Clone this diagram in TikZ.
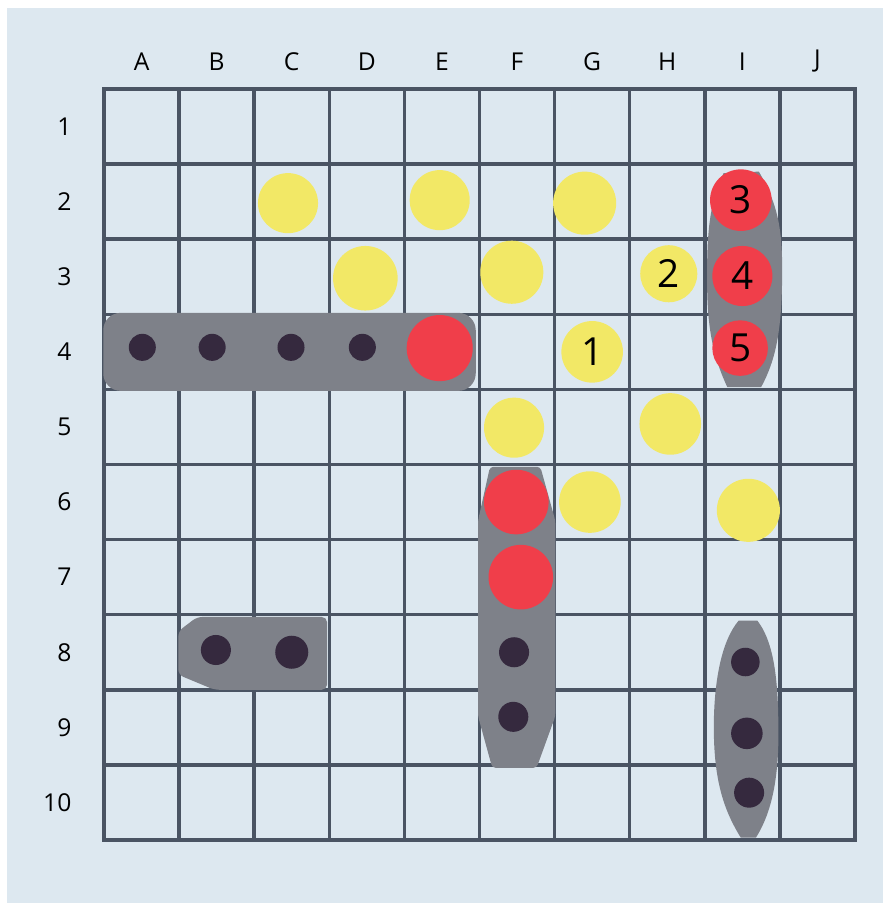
\documentclass[tikz,border=0pt]{standalone}
\usepackage{fontspec}
\setmainfont{Open Sans}
\usetikzlibrary{positioning}
\definecolor{seablue}{RGB}{221,232,240}
\definecolor{gridink}{RGB}{74,84,99}
\definecolor{missyellow}{RGB}{242,232,102}
\definecolor{hitred}{RGB}{240,62,74}
\definecolor{hullgray}{RGB}{126,129,137}
\definecolor{pegdark}{RGB}{53,41,62}

\begin{document}
\begin{tikzpicture}[x=1.5cm, y=-1.5cm,
    headtext/.style={font=\fontsize{14}{16}\selectfont, text=black, inner sep=0pt},
    misscirc/.style={circle, fill=missyellow, inner sep=0pt, font=\fontsize{22}{24}\selectfont},
    hitcirc/.style={circle, fill=hitred, inner sep=0pt, font=\fontsize{22}{24}\selectfont},
    hull/.style={fill=hullgray},
    peg/.style={circle, fill=pegdark, inner sep=0pt},
    gridlines/.style={draw=gridink, line width=2pt, line cap=rect},
  ]
    \useasboundingbox (-1.385,-1.185) rectangle (10.373,10.839);
    \fill[seablue] (-1.292,-1.079) rectangle (10.373,10.839);

    % board
    \foreach \k in {0,...,10} {
      \draw[gridlines] (\k,0) -- (\k,10);
      \draw[gridlines] (0,\k) -- (10,\k);
    }
    \foreach \c [count=\i] in {A,B,C,D,E,F,G,H,I,J}
      \node[headtext] (col-\c) at (\i-0.5,-0.37) {\c};
    \foreach \r in {1,...,10}
      \node[headtext, anchor=east] (row-\r) at (-0.43,\r-0.5) {\r};

    % ships
    \fill[hull, rounded corners=0.35cm] (-0.01,2.98) rectangle (4.95,4.02);
    \fill[hull] (8.25,1.12) -- (8.72,1.10) .. controls (8.95,1.5) and (9.03,1.8) .. (9.03,2.4)
      .. controls (9.03,3.2) and (8.95,3.6) .. (8.75,3.97) -- (8.30,3.97)
      .. controls (8.08,3.5) and (8.03,3.1) .. (8.03,2.5)
      .. controls (8.03,1.8) and (8.08,1.5) .. (8.25,1.12) -- cycle;
    \fill[hull, rounded corners=2pt] (5.14,5.03) -- (5.81,5.03) -- (6.01,5.75) -- (6.01,8.35)
      -- (5.76,9.04) -- (5.17,9.04) -- (4.98,8.35) -- (4.98,5.75) -- cycle;
    \fill[hull] (8.45,7.08) -- (8.70,7.08) .. controls (8.95,7.4) and (8.98,8.0) .. (8.98,8.6)
      .. controls (8.98,9.3) and (8.85,9.7) .. (8.68,9.97) -- (8.48,9.97)
      .. controls (8.25,9.6) and (8.12,9.2) .. (8.12,8.5)
      .. controls (8.12,7.9) and (8.22,7.35) .. (8.45,7.08) -- cycle;
    \fill[hull, rounded corners=3pt] (1.24,7.03) -- (2.97,7.03) -- (2.97,8.0) -- (1.47,8.0)
      -- (0.99,7.8) -- (0.99,7.22) -- cycle;

    \foreach \nm/\px/\py/\rr in {a4/0.51/3.44/0.18, b4/1.44/3.44/0.18, c4/2.49/3.44/0.18,
        d4/3.44/3.44/0.18, f8/5.46/7.50/0.20, f9/5.45/8.36/0.20, i8/8.54/7.63/0.19,
        i9/8.56/8.58/0.21, i10/8.59/9.37/0.20, b8/1.49/7.47/0.20, c8/2.50/7.50/0.22}
      \node[peg, minimum size=\rr*3cm] (peg-\nm) at (\px,\py) {};

    % shots
    \foreach \nm/\px/\py/\rr/\tx in {c2/2.45/1.52/0.40/, e2/4.47/1.48/0.40/,
        g2/6.40/1.52/0.42/, d3/3.48/2.52/0.43/, f3/5.43/2.44/0.42/, h3/7.52/2.46/0.38/2,
        g4/6.50/3.50/0.41/1, f5/5.46/4.51/0.40/, h5/7.54/4.46/0.41/, g6/6.47/5.50/0.41/,
        i6/8.58/5.61/0.42/}
      \node[misscirc, minimum size=\rr*3cm] (miss-\nm) at (\px,\py) {\tx};
    \foreach \nm/\px/\py/\rr/\tx in {e4/4.47/3.45/0.44/, i2/8.48/1.48/0.41/3,
        i3/8.50/2.49/0.40/4, i4/8.47/3.45/0.37/5, f6/5.49/5.50/0.43/, f7/5.55/6.50/0.43/}
      \node[hitcirc, minimum size=\rr*3cm] (hit-\nm) at (\px,\py) {\tx};

  \end{tikzpicture}
\end{document}
